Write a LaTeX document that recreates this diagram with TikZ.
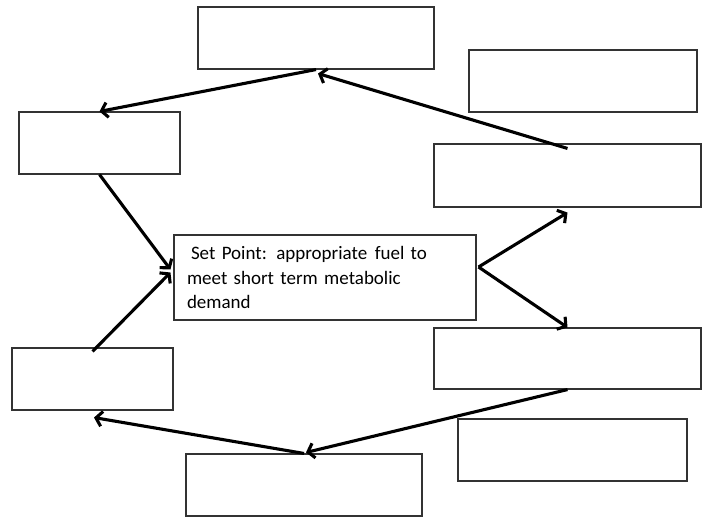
\documentclass[tikz,border=0pt]{standalone}
\usepackage{fontspec}
\setmainfont{Carlito}
\usetikzlibrary{arrows.meta,calc}
\newcommand{\setptfont}{\fontsize{19pt}{24.5pt}\selectfont\spaceskip=0.2em plus 0.1em minus 0.05em\relax}
\begin{document}
\begin{tikzpicture}[x=1pt,y=-1pt,
  box/.style={draw=black!80,line width=1.1pt,fill=white,inner sep=0pt,rectangle},
  conn/.style={line width=3.1pt,-{Straight Barb[length=6pt,width=15pt]}}]
\useasboundingbox (0,0) rectangle (712,520);
\node[box,minimum width=236pt,minimum height=62pt] (top) at (316,38) {};
\node[box,minimum width=228pt,minimum height=62pt] (tr) at (583,81) {};
\node[box,minimum width=161pt,minimum height=62pt] (left) at (99.5,143) {};
\node[box,minimum width=267pt,minimum height=63pt] (right) at (567.5,175.5) {};
\node[box,minimum width=302pt,minimum height=85pt,text width=276pt,align=left,
  font=\setptfont] (center) at (325,277.5)
  {\hspace*{4pt}Set Point: appropriate\hspace{0.4em}fuel to\\meet short term metabolic\\demand};
\node[box,minimum width=267pt,minimum height=61pt] (rlow) at (567.5,358.5) {};
\node[box,minimum width=161pt,minimum height=62pt] (llow) at (92.5,379) {};
\node[box,minimum width=229pt,minimum height=62pt] (br) at (572.5,450) {};
\node[box,minimum width=236pt,minimum height=62pt] (bottom) at (304,485) {};
\coordinate (fork) at ($(center.east)+(2,-10.5)$);
\draw[conn] ($(right.north)+(0,5)$) -- ($(top.south)+(2,4)$);
\draw[conn] (top.south) -- (left.north);
\draw[conn] (left.south) -- ($(center.west)+(-3,-8)$);
\draw[conn] ($(llow.north)+(0,4)$) -- ($(center.west)+(-3,-5)$);
\draw[conn] (fork) -- ($(right.south)+(0,5)$);
\draw[conn] (fork) -- (rlow.north);
\draw[conn] (rlow.south) -- ($(bottom.north)+(2,-1)$);
\draw[conn] (bottom.north) -- ($(llow.south)+(1.5,7)$);
\end{tikzpicture}
\end{document}
